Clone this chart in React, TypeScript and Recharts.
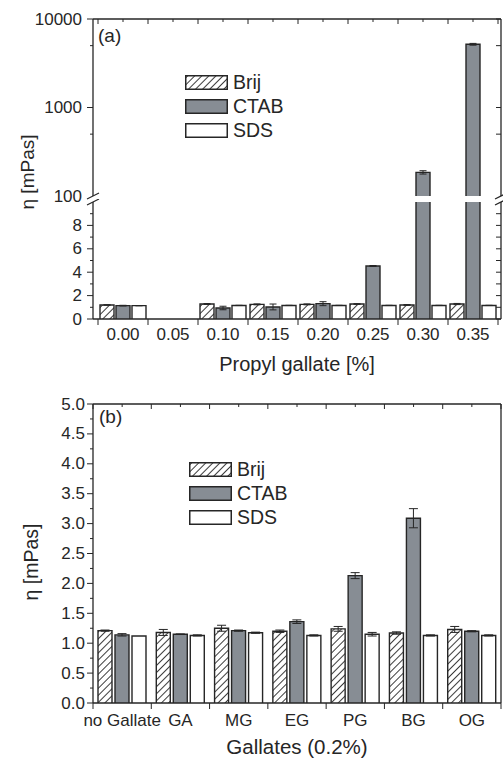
import React from "react"
import { BarChart, Bar, XAxis, YAxis, ErrorBar, Legend } from "recharts"

const FONT = '"Liberation Sans", Arial, Helvetica, sans-serif'
const INK = "#262626"
const CTAB_GREY = "#878d94"
const HATCH = "url(#brij-hatch)"

// series shared by both panels
const SERIES = ["Brij", "CTAB", "SDS"]
const SERIES_FILL = [HATCH, CTAB_GREY, "#ffffff"]

// (a) viscosity vs propyl gallate concentration
const PG_CATS = ["0.00", "0.05", "0.10", "0.15", "0.20", "0.25", "0.30", "0.35"]
const PG_BRIJ = [1.2, null, 1.28, 1.25, 1.25, 1.28, 1.2, 1.28]
const PG_BRIJ_ERR = [0.02, null, 0.04, 0.04, 0.04, 0.03, 0.03, 0.05]
const PG_CTAB = [1.14, null, 0.94, 1.03, 1.31, 4.53, 185, 5180]
const PG_CTAB_ERR = [0.03, null, 0.15, 0.25, 0.17, 0.04, 8, 120]
const PG_SDS = [1.14, null, 1.16, 1.16, 1.16, 1.16, 1.16, 1.16]
const PG_SDS_ERR = [0.01, null, 0.01, 0.01, 0.01, 0.01, 0.01, 0.01]

// (b) viscosity with 0.2 % of each gallate
const G_CATS = ["no Gallate", "GA", "MG", "EG", "PG", "BG", "OG"]
const G_BRIJ = [1.21, 1.18, 1.25, 1.2, 1.24, 1.17, 1.23]
const G_BRIJ_ERR = [0.01, 0.05, 0.05, 0.02, 0.04, 0.02, 0.05]
const G_CTAB = [1.14, 1.15, 1.21, 1.36, 2.13, 3.09, 1.2]
const G_CTAB_ERR = [0.02, 0.005, 0.01, 0.03, 0.05, 0.16, 0.01]
const G_SDS = [1.12, 1.13, 1.175, 1.13, 1.15, 1.13, 1.13]
const G_SDS_ERR = [null, 0.01, 0.01, 0.01, 0.03, 0.01, 0.01]

// axis ticks
const LOW_TOP = 10 // top of the linear part of (a)
const HIGH_BOTTOM = 100 // bottom of the log part of (a)
const PG_LOW_TICKS = [0, 1, 2, 3, 4, 5, 6, 7, 8, 9, 10]
const PG_LOW_LABELS = [0, 2, 4, 6, 8]
const PG_HIGH_TICKS = [100, 500, 1000, 5000, 10000]
const PG_HIGH_LABELS = [100, 1000, 10000]
const G_TICKS = [0, 0.25, 0.5, 0.75, 1, 1.25, 1.5, 1.75, 2, 2.25, 2.5, 2.75, 3, 3.25, 3.5, 3.75, 4, 4.25, 4.5, 4.75, 5]
const G_LABELS = [0, 0.5, 1, 1.5, 2, 2.5, 3, 3.5, 4, 4.5, 5]

const pgRows = PG_CATS.map((cat, i) => {
  const c = PG_CTAB[i]
  const high = c != null && c > LOW_TOP
  return {
    cat,
    brij: PG_BRIJ[i],
    brijErr: PG_BRIJ_ERR[i],
    ctab: c,
    ctabErr: high ? null : PG_CTAB_ERR[i],
    ctabHigh: high ? c : null,
    ctabHighErr: high ? PG_CTAB_ERR[i] : null,
    sds: PG_SDS[i],
    sdsErr: PG_SDS_ERR[i],
  }
})

const gRows = G_CATS.map((cat, i) => ({
  cat,
  brij: G_BRIJ[i],
  brijErr: G_BRIJ_ERR[i],
  ctab: G_CTAB[i],
  ctabErr: G_CTAB_ERR[i],
  sds: G_SDS[i],
  sdsErr: G_SDS_ERR[i],
}))

const AXIS = { stroke: INK, strokeWidth: 1.3 }
const NO_TICK = { tickSize: 0, tickMargin: 0, tickLine: false, interval: 0 as const }
const TICK_FONT = 17

// bar with an open bottom so the cut bars in (a) look broken
function BarShape(props: any) {
  const { x, y, width, height, fill } = props
  if (!width || !(height > 0)) return null
  return (
    <g>
      <rect x={x} y={y} width={width} height={height} fill={fill} />
      <path
        d={`M${x},${y + height}V${y}H${x + width}V${y + height}`}
        fill="none"
        stroke={INK}
        strokeWidth={1.4}
      />
    </g>
  )
}

function BreakMark({ x, y }: { x: number; y: number }) {
  return <line x1={x - 6} y1={y + 3} x2={x + 6} y2={y - 3} stroke={INK} strokeWidth={1.2} />
}

const leftTick =
  (labels: number[], fmt: (v: number) => string, gap: number, breakAt?: number) =>
  (p: any) => {
    const v = p.payload.value
    const major = labels.includes(v)
    return (
      <g>
        {v === breakAt ? (
          <BreakMark x={p.x} y={p.y} />
        ) : (
          <line x1={p.x - (major ? 6 : 3)} x2={p.x} y1={p.y} y2={p.y} stroke={INK} />
        )}
        {major && (
          <text x={p.x - gap} y={p.y} textAnchor="end" dominantBaseline="central" fontSize={TICK_FONT} fill={INK}>
            {fmt(v)}
          </text>
        )}
      </g>
    )
  }

const rightTick = (breakAt?: number) => (p: any) => {
  const v = p.payload.value
  if (v === breakAt) return <BreakMark x={p.x} y={p.y} />
  return <line x1={p.x - 5} x2={p.x} y1={p.y} y2={p.y} stroke={INK} />
}

function topTick(p: any) {
  const { x, y, payload, index, visibleTicksCount } = p
  const off = payload.offset
  const marks = [x - off, x]
  if (index === visibleTicksCount - 1) marks.push(x + off)
  return (
    <g>
      {marks.map((m, i) => (
        <line key={i} x1={m} x2={m} y1={y} y2={y + (i === 1 ? 3 : 5)} stroke={INK} />
      ))}
    </g>
  )
}

const bottomTick = (gap: number) => (p: any) => {
  const { x, y, payload, index, visibleTicksCount } = p
  const off = payload.offset
  const marks = [x - off]
  if (index === visibleTicksCount - 1) marks.push(x + off)
  return (
    <g>
      {marks.map((m, i) => (
        <line key={i} x1={m} x2={m} y1={y} y2={y + 6} stroke={INK} />
      ))}
      <text x={x} y={y + gap} dy="0.71em" textAnchor="middle" fontSize={TICK_FONT} fill={INK}>
        {payload.value}
      </text>
    </g>
  )
}

function LegendBox() {
  return (
    <div>
      {SERIES.map((name, i) => (
        <div key={name} style={{ display: "flex", alignItems: "center", height: 15, marginBottom: 9 }}>
          <svg width={43} height={15}>
            <rect x={0.75} y={0.75} width={41.5} height={13.5} fill={SERIES_FILL[i]} stroke={INK} strokeWidth={1.5} />
          </svg>
          <span style={{ marginLeft: 5, fontSize: 19.5, lineHeight: "15px", color: INK }}>{name}</span>
        </div>
      ))}
    </div>
  )
}

function bars(xAxisId: string, capWidth: number) {
  const keys = ["brij", "ctab", "sds"]
  return keys.map((k, i) => (
    <Bar
      key={k}
      xAxisId={xAxisId}
      yAxisId="left"
      dataKey={k}
      fill={SERIES_FILL[i]}
      shape={BarShape}
      isAnimationActive={false}
    >
      <ErrorBar dataKey={`${k}Err`} width={capWidth} stroke={INK} strokeWidth={1} />
    </Bar>
  ))
}

export default function App() {
  return (
    <div
      style={{
        position: "absolute",
        left: 0,
        top: 0,
        width: 503,
        height: 759,
        background: "#fff",
        fontFamily: FONT,
        color: INK,
      }}
    >
      <svg width={0} height={0} style={{ position: "absolute" }}>
        <defs>
          <pattern id="brij-hatch" patternUnits="userSpaceOnUse" width={5} height={5} patternTransform="rotate(45)">
            <rect width={5} height={5} fill="#fff" />
            <line x1={2.5} y1={0} x2={2.5} y2={5} stroke={INK} strokeWidth={0.9} />
          </pattern>
        </defs>
      </svg>

      {/* (a) upper, logarithmic part; its svg runs past the plot so the "100" label is not cut */}
      <div style={{ position: "absolute", left: 0, top: 0 }}>
        <BarChart width={503} height={208} data={pgRows} margin={{ top: 0, right: 0, bottom: 12, left: 0 }} barSize={14} barGap={2}>
          <XAxis xAxisId="top" orientation="top" dataKey="cat" height={19} padding={{ left: 5, right: 3 }} axisLine={AXIS} tick={topTick} {...NO_TICK} />
          <YAxis
            yAxisId="left"
            type="number"
            scale="log"
            domain={[HIGH_BOTTOM, 10000]}
            allowDataOverflow
            ticks={PG_HIGH_TICKS}
            width={93}
            axisLine={AXIS}
            tick={leftTick(PG_HIGH_LABELS, (v) => String(v), 11, HIGH_BOTTOM)}
            {...NO_TICK}
          />
          <YAxis
            yAxisId="right"
            orientation="right"
            type="number"
            scale="log"
            domain={[HIGH_BOTTOM, 10000]}
            allowDataOverflow
            ticks={PG_HIGH_TICKS}
            width={2}
            axisLine={AXIS}
            tick={rightTick(HIGH_BOTTOM)}
            {...NO_TICK}
          />
          <Legend layout="vertical" align="center" verticalAlign="middle" wrapperStyle={{ left: 185, top: 75, width: 120, height: 70 }} content={() => <LegendBox />} />
          <Bar xAxisId="top" yAxisId="left" dataKey="ctabHigh" fill={CTAB_GREY} shape={BarShape} isAnimationActive={false}>
            <ErrorBar dataKey="ctabHighErr" width={3.5} stroke={INK} strokeWidth={1} />
          </Bar>
        </BarChart>
      </div>

      {/* (a) lower, linear part */}
      <div style={{ position: "absolute", left: 0, top: 199 }}>
        <BarChart width={503} height={181} data={pgRows} margin={{ top: 3, right: 0, bottom: 0, left: 0 }} barSize={14} barGap={2}>
          <XAxis
            xAxisId="bottom"
            dataKey="cat"
            height={61}
            padding={{ left: 5, right: 3 }}
            axisLine={AXIS}
            tick={bottomTick(9)}
            label={{ value: "Propyl gallate [%]", position: "insideBottom", offset: 9, fill: INK, fontSize: 20 }}
            {...NO_TICK}
          />
          <YAxis
            yAxisId="left"
            type="number"
            domain={[0, LOW_TOP]}
            allowDataOverflow
            ticks={PG_LOW_TICKS}
            width={93}
            axisLine={AXIS}
            tick={leftTick(PG_LOW_LABELS, (v) => String(v), 11, LOW_TOP)}
            {...NO_TICK}
          />
          <YAxis
            yAxisId="right"
            orientation="right"
            type="number"
            domain={[0, LOW_TOP]}
            allowDataOverflow
            ticks={PG_LOW_TICKS}
            width={2}
            axisLine={AXIS}
            tick={rightTick(LOW_TOP)}
            {...NO_TICK}
          />
          {bars("bottom", 3.5)}
        </BarChart>
      </div>

      {/* (b) gallates */}
      <div style={{ position: "absolute", left: 0, top: 380 }}>
        <BarChart width={503} height={379} data={gRows} margin={{ top: 0, right: 0, bottom: 0, left: 0 }} barSize={14} barGap={3}>
          <XAxis xAxisId="top" orientation="top" dataKey="cat" height={24} axisLine={AXIS} tick={topTick} {...NO_TICK} />
          <XAxis
            xAxisId="bottom"
            dataKey="cat"
            height={56}
            axisLine={AXIS}
            tick={bottomTick(11)}
            label={{ value: "Gallates (0.2%)", position: "insideBottom", offset: 5, fill: INK, fontSize: 20.5 }}
            {...NO_TICK}
          />
          <YAxis
            yAxisId="left"
            type="number"
            domain={[0, 5]}
            ticks={G_TICKS}
            width={93}
            axisLine={AXIS}
            tick={leftTick(G_LABELS, (v) => v.toFixed(1), 8)}
            {...NO_TICK}
          />
          <YAxis
            yAxisId="right"
            orientation="right"
            type="number"
            domain={[0, 5]}
            ticks={G_TICKS}
            width={2}
            axisLine={AXIS}
            tick={rightTick()}
            {...NO_TICK}
          />
          <Legend layout="vertical" align="center" verticalAlign="middle" wrapperStyle={{ left: 189, top: 82, width: 120, height: 70 }} content={() => <LegendBox />} />
          {bars("bottom", 4.5)}
        </BarChart>
      </div>

      {/* panel tags and y titles */}
      <svg width={503} height={759} style={{ position: "absolute", left: 0, top: 0, pointerEvents: "none" }}>
        <text x={98} y={42} fontSize={19} fill={INK}>(a)</text>
        <text x={99} y={423} fontSize={19} fill={INK}>(b)</text>
        <text transform="translate(27,172) rotate(-90)" textAnchor="middle" dominantBaseline="central" fontSize={19} fill={INK}>
          η [mPas]
        </text>
        <text transform="translate(31,562) rotate(-90)" textAnchor="middle" dominantBaseline="central" fontSize={19.5} fill={INK}>
          η [mPas]
        </text>
      </svg>
    </div>
  )
}
